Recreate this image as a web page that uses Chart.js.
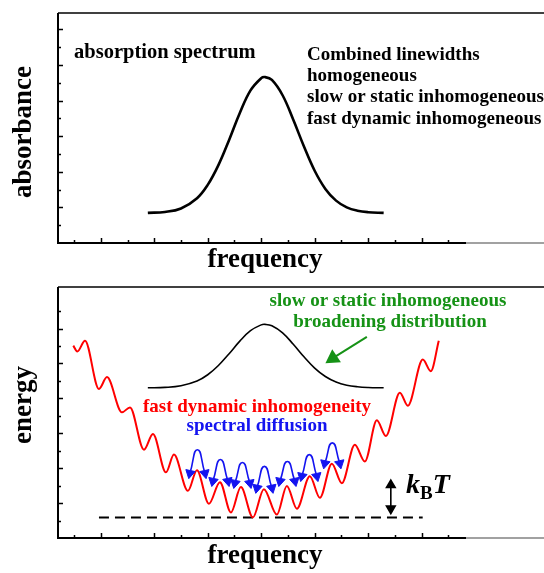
<!DOCTYPE html>
<html>
<head>
<meta charset="utf-8">
<script src="https://cdn.jsdelivr.net/npm/chart.js@4.4.0/dist/chart.umd.min.js"></script>
<style>
  html, body { margin: 0; padding: 0; background: #fff; overflow: hidden; width: 544px; height: 573px; }
  #absChart { position: absolute; left: 0; top: 0; }
  #energyChart { position: absolute; left: 0; top: 278px; }
</style>
</head>
<body>
<canvas id="absChart" width="544" height="278"></canvas>
<canvas id="energyChart" width="544" height="295"></canvas>
<script>
// shared frequency axis (arbitrary units), ticks every 0.5, long ticks on integers
const freqTicks = [0.5, 1, 1.5, 2, 2.5, 3, 3.5, 4, 4.5, 5, 5.5, 6, 6.5, 7, 7.5];
const absTicks = [0.5, 1, 1.5, 2, 2.5, 3, 3.5, 4, 4.5, 5, 5.5, 6];
const energyTicks = [0.5, 1, 1.5, 2, 2.5, 3, 3.5, 4, 4.5, 5, 5.5, 6, 6.5];

// absorption band (top) and static inhomogeneous distribution (bottom)
const bandX = [1.88, 2.2, 2.5, 2.8, 3.0, 3.2, 3.4, 3.6, 3.8, 4.0, 4.07, 4.2, 4.4, 4.6, 4.8, 5.0, 5.2, 5.4, 5.6, 5.8, 6.0, 6.29];
const absY = [0.846, 0.872, 0.97, 1.258, 1.632, 2.187, 2.894, 3.65, 4.286, 4.63, 4.66, 4.58, 4.15, 3.46, 2.71, 2.03, 1.52, 1.19, 1.0, 0.906, 0.865, 0.845];
const distY = [4.303, 4.315, 4.362, 4.498, 4.677, 4.942, 5.279, 5.64, 5.94, 6.105, 6.12, 6.08, 5.876, 5.55, 5.19, 4.868, 4.625, 4.467, 4.377, 4.332, 4.312, 4.302];

// rugged energy landscape (peaks and troughs)
const landX = [0.486, 0.561, 0.705, 0.966, 1.116, 1.396, 1.546, 1.807, 1.976, 2.219, 2.368, 2.63, 2.798, 3.022, 3.228, 3.434, 3.62, 3.845, 4.05, 4.293, 4.48, 4.667, 4.91, 5.097, 5.321, 5.508, 5.751, 5.938, 6.163, 6.331, 6.593, 6.742, 7.022, 7.172, 7.321];
const landY = [5.51, 5.34, 5.65, 4.27, 4.61, 3.60, 3.74, 2.53, 2.98, 1.88, 2.39, 1.35, 1.94, 0.98, 1.60, 0.73, 1.46, 0.59, 1.40, 0.67, 1.49, 0.84, 1.77, 1.15, 2.13, 1.57, 2.67, 2.19, 3.37, 2.92, 4.16, 3.79, 5.11, 4.78, 5.65];

// kT reference level
const levelX = [0.966, 7.02];
const levelY = [0.59, 0.59];

// spectral diffusion hops
const hopLeftX = [2.667, 3.097, 3.508, 3.92, 4.35, 4.76, 5.19];
const hopMidX = [2.807, 3.237, 3.649, 4.06, 4.49, 4.90, 5.33];
const hopRightX = [2.948, 3.378, 3.789, 4.20, 4.63, 5.04, 5.47];
const hopBaseY = [1.854, 1.629, 1.573, 1.433, 1.629, 1.77, 2.135];
const hopTopY = [2.528, 2.247, 2.163, 2.051, 2.191, 2.388, 2.725];

// pointer arrow and kT double arrow
const pointerX = [5.976, 5.34];
const pointerY = [5.76, 5.15];
const kTX = [6.424, 6.424];
const kTY = [1.517, 0.843];

const SERIF = '"Liberation Serif", "Times New Roman", serif';
const GREEN = '#169216';
const BLUE = '#1414f0';
const RED = '#ff0000';

function pts(xs, ys) {
  return xs.map((x, i) => ({ x, y: ys[i] }));
}

// frame with inward ticks, open on the right like the original figure
const framePlugin = {
  id: 'frame',
  beforeDatasetsDraw(chart, args, opts) {
    const { ctx, chartArea: a } = chart;
    const xs = chart.scales.x, ys = chart.scales.y;
    ctx.save();
    ctx.strokeStyle = '#000';
    ctx.lineWidth = 2;
    ctx.beginPath();
    ctx.moveTo(a.left, a.top);
    ctx.lineTo(a.left, a.bottom);
    ctx.lineTo(a.right, a.bottom);
    ctx.stroke();
    ctx.lineWidth = 1.5;
    ctx.beginPath();
    ctx.moveTo(a.left, a.top);
    ctx.lineTo(chart.width, a.top);
    ctx.stroke();
    ctx.strokeStyle = '#444';
    ctx.lineWidth = 1.2;
    ctx.beginPath();
    ctx.moveTo(a.right, a.bottom);
    ctx.lineTo(chart.width, a.bottom);
    ctx.stroke();

    ctx.strokeStyle = '#000';
    ctx.lineWidth = 1.5;
    ctx.beginPath();
    opts.xTicks.forEach(v => {
      const px = Math.round(xs.getPixelForValue(v)) + 0.5;
      const len = Number.isInteger(v) ? 5 : 3;
      ctx.moveTo(px, a.bottom);
      ctx.lineTo(px, a.bottom - len);
    });
    opts.yTicks.forEach(v => {
      const py = Math.round(ys.getPixelForValue(v)) + 0.5;
      const len = Number.isInteger(v) ? 5 : 3;
      ctx.moveTo(a.left, py);
      ctx.lineTo(a.left + len, py);
    });
    ctx.stroke();
    ctx.restore();
  }
};

const textPlugin = {
  id: 'texts',
  afterDatasetsDraw(chart, args, opts) {
    const ctx = chart.ctx;
    ctx.save();
    opts.items.forEach(t => {
      ctx.font = (t.style || 'bold') + ' ' + t.size + 'px ' + SERIF;
      ctx.fillStyle = t.color || '#000';
      ctx.textBaseline = 'alphabetic';
      if (t.rotate) {
        ctx.save();
        ctx.translate(t.x, t.y);
        ctx.rotate(-Math.PI / 2);
        ctx.textAlign = 'center';
        ctx.fillText(t.text, 0, 0);
        ctx.restore();
      } else if (t.parts) {
        let x = t.x;
        ctx.textAlign = 'left';
        t.parts.forEach(p => {
          ctx.font = p.style + ' ' + p.size + 'px ' + SERIF;
          ctx.fillText(p.text, x, t.y + (p.dy || 0));
          x += ctx.measureText(p.text).width + (p.gap || 0);
        });
      } else {
        ctx.textAlign = t.align || 'left';
        ctx.fillText(t.text, t.x, t.y);
      }
    });
    ctx.restore();
  }
};

function baseOptions(yMax, yTicks, padTop, texts) {
  return {
    responsive: false,
    animation: false,
    layout: { padding: { left: 58, top: padTop, right: 78, bottom: 35 } },
    elements: { point: { radius: 0 } },
    scales: {
      x: { type: 'linear', display: false, min: 0.2, max: 7.83 },
      y: { type: 'linear', display: false, min: 0, max: yMax }
    },
    plugins: {
      legend: { display: false },
      tooltip: { enabled: false },
      frame: { xTicks: freqTicks, yTicks: yTicks },
      texts: { items: texts }
    }
  };
}

new Chart(document.getElementById('absChart'), {
  type: 'line',
  data: {
    datasets: [{
      data: pts(bandX, absY),
      borderColor: '#000',
      borderWidth: 2.6,
      tension: 0.4,
      fill: false
    }]
  },
  options: baseOptions(6.46, absTicks, 13, [
    { text: 'absorption spectrum', x: 74, y: 58, size: 20.5 },
    { text: 'Combined linewidths', x: 307, y: 60, size: 19 },
    { text: 'homogeneous', x: 307, y: 81, size: 19 },
    { text: 'slow or static inhomogeneous', x: 307, y: 102, size: 19 },
    { text: 'fast dynamic inhomogeneous', x: 307, y: 124, size: 19 },
    { text: 'frequency', x: 265, y: 267, size: 27, align: 'center' },
    { text: 'absorbance', x: 31, y: 132, size: 27, rotate: true }
  ]),
  plugins: [framePlugin, textPlugin]
});

const hopSets = hopLeftX.map((xl, i) => ({
  data: pts([xl, hopMidX[i], hopRightX[i]], [hopBaseY[i], hopTopY[i], hopBaseY[i]]),
  borderColor: BLUE,
  backgroundColor: BLUE,
  borderWidth: 1.6,
  tension: 0.6,
  pointStyle: 'triangle',
  pointRadius: [5.5, 0, 5.5],
  pointRotation: [192, 0, 168],
  pointBorderWidth: 1,
  pointBorderColor: BLUE,
  pointBackgroundColor: BLUE,
  order: 0
}));

new Chart(document.getElementById('energyChart'), {
  type: 'line',
  data: {
    datasets: [
      ...hopSets,
      {
        data: pts(pointerX, pointerY),
        borderColor: GREEN,
        borderWidth: 2,
        pointStyle: 'triangle',
        pointRadius: [0, 7],
        pointRotation: [0, 236],
        pointBackgroundColor: GREEN,
        pointBorderColor: GREEN,
        order: 0
      },
      {
        data: pts(kTX, kTY),
        borderColor: '#000',
        borderWidth: 1.6,
        pointStyle: 'triangle',
        pointRadius: [5, 5],
        pointRotation: [0, 180],
        pointBackgroundColor: '#000',
        pointBorderColor: '#000',
        order: 0
      },
      {
        data: pts(landX, landY),
        borderColor: RED,
        borderWidth: 2,
        cubicInterpolationMode: 'monotone',
        order: 1
      },
      {
        data: pts(bandX, distY),
        borderColor: '#000',
        borderWidth: 1.6,
        tension: 0.4,
        order: 1
      },
      {
        data: pts(levelX, levelY),
        borderColor: '#000',
        borderWidth: 2,
        borderDash: [10, 6],
        order: 1
      }
    ]
  },
  options: baseOptions(7.19, energyTicks, 4, [
    { text: 'slow or static inhomogeneous', x: 388, y: 28, size: 19, color: GREEN, align: 'center' },
    { text: 'broadening distribution', x: 390, y: 49, size: 19, color: GREEN, align: 'center' },
    { text: 'fast dynamic inhomogeneity', x: 257, y: 134, size: 19, color: RED, align: 'center' },
    { text: 'spectral diffusion', x: 257, y: 153, size: 19, color: BLUE, align: 'center' },
    { text: 'frequency', x: 265, y: 285, size: 27, align: 'center' },
    { text: 'energy', x: 31, y: 127, size: 27, rotate: true },
    { x: 406, y: 215, parts: [
      { text: 'k', style: 'italic bold', size: 28 },
      { text: 'B', style: 'bold', size: 19, dy: 6 },
      { text: 'T', style: 'italic bold', size: 28 }
    ] }
  ]),
  plugins: [framePlugin, textPlugin]
});
</script>
</body>
</html>
